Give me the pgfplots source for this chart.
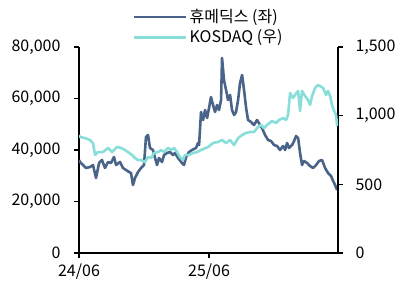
\documentclass[border=0pt]{standalone}
\usepackage{fontspec}
\setmainfont{Noto Sans CJK KR}
\usepackage{pgfplots}
\pgfplotsset{compat=1.18}
\definecolor{stockc}{HTML}{4A6489}
\definecolor{kosdaqc}{HTML}{88DED8}
\pgfplotstableread{
m v
0.00 36117
0.09 35340
0.37 34175
0.65 33010
1.02 33398
1.29 34175
1.57 29126
1.85 34952
2.12 36117
2.40 33010
2.68 35340
2.95 34952
3.23 37282
3.42 34175
3.78 35340
4.06 33010
4.34 32233
4.62 31456
4.80 31068
4.98 26408
5.17 29126
5.45 31456
5.72 33010
6.00 34175
6.18 45049
6.37 45825
6.55 40777
6.83 40000
7.02 36893
7.20 34175
7.38 36893
7.66 35340
7.85 38058
8.12 38835
8.40 39223
8.68 38058
8.86 38835
9.14 36893
9.42 35340
9.69 34175
9.88 37282
10.15 39223
10.43 40000
10.80 40777
10.98 42718
11.08 41942
11.26 54757
11.45 51650
11.63 55534
11.82 52427
12.00 56311
12.18 60583
12.37 57476
12.55 54757
12.74 57476
12.92 55534
13.11 59418
13.20 75728
13.38 67184
13.57 63301
13.75 59418
13.94 61359
14.12 55534
14.31 53592
14.49 54757
14.68 59418
14.86 66020
15.05 69126
15.23 63301
15.42 56311
15.60 51650
15.88 50874
16.15 49709
16.43 51650
16.71 49709
16.89 48544
17.17 45825
17.45 43884
17.72 43495
18.00 41942
18.28 41553
18.55 40000
18.83 41553
19.02 40000
19.20 42718
19.38 40777
19.66 41942
19.85 43495
20.03 45437
20.22 44660
20.40 38835
20.58 34175
20.77 35728
21.05 34952
21.32 33786
21.60 33010
21.88 34175
22.15 35728
22.43 36117
22.71 33010
22.98 31068
23.26 29903
23.45 27961
23.63 26408
23.82 24466
}\stock
\pgfplotstableread{
m v
0.00 859
0.09 845
0.55 837
1.02 823
1.29 801
1.48 714
1.75 735
2.22 735
2.68 765
3.05 735
3.51 772
3.88 765
4.25 750
4.52 735
4.89 714
5.17 692
5.45 677
5.72 677
6.09 663
6.37 699
6.65 692
6.92 728
7.29 735
7.57 750
7.85 735
8.22 765
8.49 750
8.77 765
9.05 735
9.32 699
9.60 677
9.78 714
10.15 714
10.52 728
10.89 735
11.26 750
11.91 772
12.37 801
12.83 808
13.20 823
13.57 801
13.94 823
14.31 786
14.68 837
15.05 859
15.42 874
15.78 881
16.15 881
16.52 918
16.80 932
17.08 910
17.35 932
17.82 961
18.18 947
18.46 969
18.83 983
19.11 969
19.29 1005
19.48 1165
19.75 1129
19.94 1151
20.22 1180
20.40 1034
20.58 1180
20.86 1143
21.14 1114
21.32 1078
21.51 1143
21.78 1202
22.06 1223
22.25 1216
22.52 1202
22.80 1151
22.98 1180
23.17 1143
23.35 1078
23.54 1034
23.72 1005
23.82 925
}\kosdaq
\begin{document}
\fontsize{16}{19}\selectfont
\begin{tikzpicture}
\useasboundingbox (-79pt,-29pt) rectangle (317pt,253pt);
\pgfplotsset{every axis/.append style={
  width=259pt, height=206pt, scale only axis,
  xmin=0, xmax=23.9,
  font=\fontsize{16}{19}\selectfont,
  /pgf/number format/assume math mode=true,
  /pgf/number format/1000 sep={,},
  scaled y ticks=false,
  tick align=outside, major tick length=5pt,
  axis line style={-, line width=1.2pt, black},
  tick style={line width=1.2pt, black},
}}
\begin{axis}[
  axis x line*=bottom, axis y line*=left,
  ymin=0, ymax=80000, ytick={0,20000,40000,60000,80000},
  xtick={0,12}, xticklabels={24/06,25/06},
  yticklabel style={xshift=-8pt},
  legend style={at={(0.208,1.195)}, anchor=north west, draw=none, fill=none,
    font=\fontsize{16}{19}\selectfont, row sep=1pt, inner sep=0pt},
  legend cell align=left,
  legend image code/.code={\draw[#1] (0pt,0pt) -- (52pt,0pt);},
]
\addplot[stockc, line width=2.6pt, line join=round] table[x=m, y=v] {\stock};
\addlegendentry{휴메딕스 (좌)}
\addlegendimage{kosdaqc, line width=2.6pt}
\addlegendentry{KOSDAQ (우)}
\node[anchor=south east, inner sep=0pt, xshift=3pt, yshift=6pt] at (rel axis cs:0,1) {(원)};
\node[anchor=south west, inner sep=0pt, xshift=-1pt, yshift=6pt] at (rel axis cs:1,1) {(pt)};
\end{axis}
\begin{axis}[
  axis y line*=right, axis x line=none,
  ymin=0, ymax=1500, ytick={0,500,1000,1500},
  yticklabel style={xshift=7pt},
]
\addplot[kosdaqc, line width=2.6pt, line join=round] table[x=m, y=v] {\kosdaq};
\end{axis}
\end{tikzpicture}
\end{document}
